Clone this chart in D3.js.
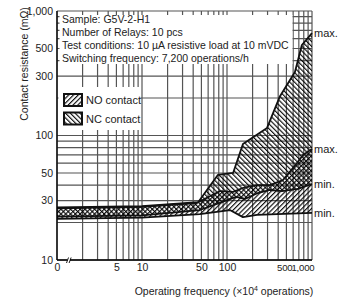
<!DOCTYPE html>
<html><head><meta charset="utf-8">
<script src="https://cdn.jsdelivr.net/npm/d3@7"></script>
<style>
html,body{margin:0;padding:0;background:#fff;}
svg{display:block;font-family:"Liberation Sans",Arial,sans-serif;}
</style></head>
<body><svg id="c" width="343" height="298"></svg>
<script>
// ---- data ----
const xTickValues = [1, 5, 10, 50, 100, 500, 1000];
const xTickLabels = ["0", "5", "10", "50", "100", "500", "1,000"];
const yTickValues = [10, 30, 50, 100, 300, 500, 1000];
const yTickLabels = ["10", "30", "50", "100", "300", "500", "1,000"];

// NC contact (hatch \\\\)
const ncMaxFreq = [1, 10, 46, 78, 118, 154, 296, 420, 630, 760, 1000];
const ncMaxRes  = [26.4, 27.1, 29.2, 48.2, 50, 85.5, 115, 207, 324, 533, 665];
const ncMinFreq = [1, 10, 48, 87, 128, 163, 231, 320, 444, 684, 1000];
const ncMinRes  = [22.3, 22.8, 25.2, 29.2, 32.1, 30.9, 34.5, 36.5, 35.8, 37.2, 40.8];
// NO contact (hatch ////)
const noMaxFreq = [1, 10, 44, 83, 118, 154, 225, 320, 456, 667, 784, 1000];
const noMaxRes  = [26.0, 26.7, 28.7, 35.8, 35.2, 37.9, 40.0, 40.0, 43.9, 60.1, 69.7, 78];
const noMinFreq = [1, 10, 48, 108, 154, 225, 1000];
const noMinRes  = [21.4, 21.9, 23.4, 25.2, 22.1, 23.0, 23.9];

const infoLines = ["Sample: G5V-2-H1", "Number of Relays: 10 pcs",
  "Test conditions: 10 \u00B5A resistive load at 10 mVDC", "Switching frequency: 7,200 operations/h"];
const legendLabels = ["NO contact", "NC contact"];
const endLabels = ["max.", "max.", "min.", "min."];

// ---- drawing ----
const svg = d3.select("#c");
const L = 57, R = 312, T = 11, B = 260;
const x = d3.scaleLog().domain([1, 1000]).range([L, R]);
const y = d3.scaleLog().domain([10, 1000]).range([B, T]);

const defs = svg.append("defs");
function hatch(id, angle) {
  const p = defs.append("pattern").attr("id", id).attr("patternUnits", "userSpaceOnUse")
    .attr("width", 3.4).attr("height", 3.4).attr("patternTransform", `rotate(${angle})`);
  p.append("line").attr("x1", 0.6).attr("y1", 0).attr("x2", 0.6).attr("y2", 3.4)
    .attr("stroke", "#000").attr("stroke-width", 1.1);
}
hatch("hNO", 45);
hatch("hNC", -45);

// grid
const gx = [];
[1, 10, 100].forEach(d => { for (let k = 1; k <= 9; k++) gx.push(d * k); });
gx.push(1000);
const gy = [];
[10, 100].forEach(d => { for (let k = 1; k <= 9; k++) gy.push(d * k); });
gy.push(1000);
const grid = svg.append("g").attr("stroke", "#555").attr("stroke-width", 1.2);
grid.selectAll("line.v").data(gx).join("line").attr("class", "v")
  .attr("x1", d => x(d)).attr("x2", d => x(d)).attr("y1", T).attr("y2", B);
grid.selectAll("line.h").data(gy).join("line").attr("class", "h")
  .attr("x1", L).attr("x2", R).attr("y1", d => y(d)).attr("y2", d => y(d));

// bands
const pts = (f, r) => f.map((v, i) => [x(v), y(r[i])]);
const line = d3.line();
function band(fmax, rmax, fmin, rmin) {
  const a = pts(fmax, rmax), b = pts(fmin, rmin).reverse();
  return line(a.concat(b)) + "Z";
}
svg.append("path").attr("d", band(noMaxFreq, noMaxRes, noMinFreq, noMinRes)).attr("fill", "url(#hNO)");
svg.append("path").attr("d", band(ncMaxFreq, ncMaxRes, ncMinFreq, ncMinRes)).attr("fill", "url(#hNC)");

const series = [[ncMaxFreq, ncMaxRes], [noMaxFreq, noMaxRes], [ncMinFreq, ncMinRes], [noMinFreq, noMinRes]];
svg.append("g").selectAll("path").data(series).join("path")
  .attr("d", d => line(pts(d[0], d[1]))).attr("fill", "none")
  .attr("stroke", "#111").attr("stroke-width", 1.8).attr("stroke-linejoin", "round");

// end labels
svg.append("g").selectAll("text").data(series).join("text")
  .attr("x", R + 2).attr("y", (d, i) => y(d[1][d[1].length - 1]) + 4)
  .attr("font-size", 11).attr("fill", "#222").text((d, i) => endLabels[i]);

// axes frame
const frame = svg.append("g").attr("stroke", "#000").attr("stroke-width", 1.3);
frame.append("line").attr("x1", L).attr("x2", L).attr("y1", T).attr("y2", B);
frame.append("line").attr("x1", L).attr("x2", R).attr("y1", B).attr("y2", B);

// axis break mark
const brk = svg.append("g");
brk.append("rect").attr("x", 67.5).attr("y", B - 2).attr("width", 2.5).attr("height", 4).attr("fill", "#fff");
brk.selectAll("line").data([0, 2.6]).join("line")
  .attr("x1", d => 66.5 + d).attr("y1", B + 3).attr("x2", d => 68.5 + d).attr("y2", B - 2.5)
  .attr("stroke", "#000").attr("stroke-width", 0.9);

// tick labels
const yAxis = d3.axisLeft(y).tickValues(yTickValues).tickSize(0).tickPadding(4)
  .tickFormat((d, i) => yTickLabels[i]);
const gyA = svg.append("g").attr("transform", `translate(${L},0)`).call(yAxis);
gyA.select(".domain").remove();
gyA.selectAll("text").attr("font-size", 10.5).attr("fill", "#222").attr("font-family", null);

const xAxis = d3.axisBottom(x).tickValues(xTickValues).tickSize(0).tickPadding(4)
  .tickFormat((d, i) => xTickLabels[i]);
const gxA = svg.append("g").attr("transform", `translate(0,${B})`).call(xAxis);
gxA.select(".domain").remove();
gxA.selectAll("text").attr("font-size", 10.5).attr("fill", "#222").attr("font-family", null);
gxA.selectAll("text").filter(d => d >= 500).attr("font-size", 9.6).attr("text-anchor", "end")
  .attr("letter-spacing", -0.2);
gxA.selectAll("text").filter(d => d === 1000).attr("dx", 2);
gxA.selectAll("text").filter(d => d === 500).attr("dx", 5.5);

// info box
svg.append("rect").attr("x", 59.5).attr("y", 15).attr("width", 233).attr("height", 49).attr("fill", "#fff");
svg.append("g").selectAll("text").data(infoLines).join("text")
  .attr("x", 62).attr("y", (d, i) => 23 + i * 13).attr("font-size", 10.5).attr("fill", "#222").text(d => d);

// legend
svg.append("rect").attr("x", 58.5).attr("y", 87).attr("width", 82).attr("height", 43).attr("fill", "#fff");
const lg = svg.append("g").selectAll("g").data(legendLabels).join("g")
  .attr("transform", (d, i) => `translate(64,${94 + i * 18.5})`);
lg.append("rect").attr("width", 18).attr("height", 12).attr("fill", "#fff");
lg.append("rect").attr("width", 18).attr("height", 12)
  .attr("fill", (d, i) => i === 0 ? "url(#hNO)" : "url(#hNC)")
  .attr("stroke", "#111").attr("stroke-width", 2);
lg.append("text").attr("x", 22).attr("y", 10).attr("font-size", 11).attr("fill", "#222").text(d => d);

// axis titles
svg.append("text").attr("x", 224).attr("y", 295).attr("text-anchor", "middle")
  .attr("font-size", 10.5).attr("fill", "#222")
  .html('Operating frequency (\u00D710<tspan dy="-4" font-size="7">4</tspan><tspan dy="4"> operations)</tspan>');
svg.append("text").attr("transform", "translate(28,64) rotate(-90)").attr("text-anchor", "middle")
  .attr("font-size", 10.5).attr("fill", "#222").text("Contact resistance (m\u03A9)");
</script></body></html>
